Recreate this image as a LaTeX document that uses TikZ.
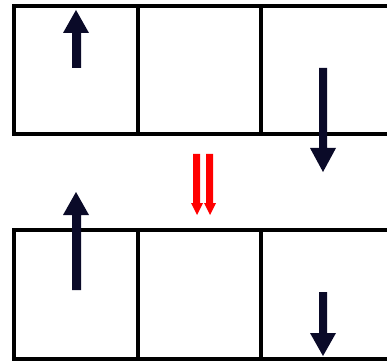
\documentclass[tikz,border=0pt]{standalone}
\begin{document}
\begin{tikzpicture}[x=1pt,y=-1pt,
  cellline/.style={line width=3.5pt,black},
  spinarrow/.style={fill={rgb,255:red,10;green,10;blue,40}},
  redarrow/.style={fill=red}]
\useasboundingbox (0,0) rectangle (387,363);
\clip (0,0) rectangle (387,363);
% top strip
\draw[cellline] (392,6) -- (14,6) -- (14,134) -- (392,134);
\draw[cellline] (138,6) -- (138,134);
\draw[cellline] (261,6) -- (261,134);
% bottom strip
\draw[cellline] (392,230) -- (14,230) -- (14,359) -- (392,359);
\draw[cellline] (138,230) -- (138,359);
\draw[cellline] (261,230) -- (261,359);
% top-left up arrow
\fill[spinarrow] (72,68) -- (72,33) -- (63,33) -- (76,10) -- (89,33) -- (81,33) -- (81,68) -- cycle;
% top-right down arrow
\fill[spinarrow] (319,68) -- (319,148) -- (310,148) -- (323,172) -- (336,148) -- (327,148) -- (327,68) -- cycle;
% bottom-left up arrow
\fill[spinarrow] (72,290) -- (72,215) -- (63,215) -- (76,192) -- (89,215) -- (81,215) -- (81,290) -- cycle;
% bottom-right down arrow
\fill[spinarrow] (319,292) -- (319,333) -- (310,333) -- (323,356) -- (336,333) -- (327,333) -- (327,292) -- cycle;
% red double arrow
\fill[redarrow] (193,154) -- (193,203) -- (191,203) -- (197,215) -- (203,203) -- (200,203) -- (200,154) -- cycle;
\fill[redarrow] (206,154) -- (206,203) -- (204,203) -- (210,215) -- (216,203) -- (213,203) -- (213,154) -- cycle;
\end{tikzpicture}
\end{document}
